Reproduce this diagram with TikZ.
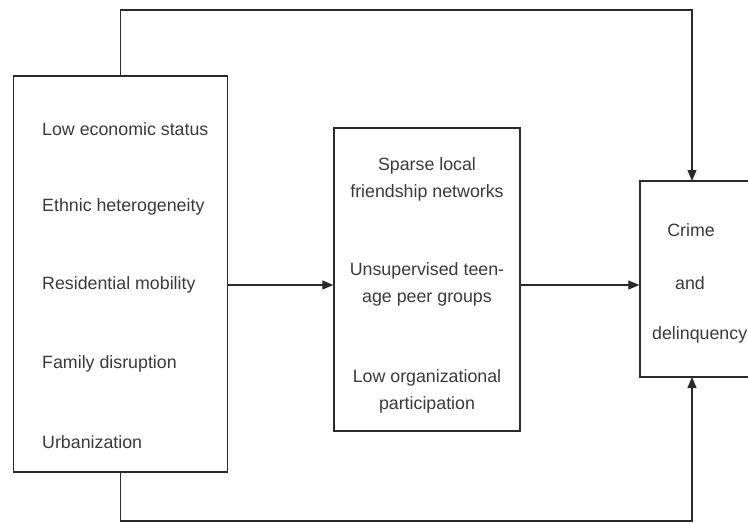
\documentclass[tikz,border=0pt]{standalone}
\usepackage{fontspec}
\setmainfont{Liberation Sans}
\usetikzlibrary{arrows.meta,calc}
\definecolor{ink}{HTML}{2A2A2A}
\definecolor{txt}{HTML}{3A3A3A}
\begin{document}
\begin{tikzpicture}[x=1pt,y=-1pt,
  box/.style={draw=ink,line width=1.3pt,rectangle,inner sep=0pt},
  lbl/.style={text=txt,font=\fontsize{17.8}{27}\selectfont,inner sep=0pt},
  mlbl/.style={lbl,align=center},
  conn/.style={draw=ink,line width=1.2pt,-{Triangle[length=11pt,width=9pt]}}]
\useasboundingbox (0,0) rectangle (748,523);
\begin{scope}
\clip (0,0) rectangle (748,523);
% boxes
\node[box,minimum width=214pt,minimum height=396pt] (L) at (120.5,274) {};
\node[box,minimum width=186pt,minimum height=303pt] (M) at (427,279.5) {};
\node[box,minimum width=130pt,minimum height=196pt] (R) at (705,279) {};
% left labels
\node[lbl,anchor=west] (l1) at (42,129) {Low economic status};
\node[lbl,anchor=west] (l2) at (42,207) {Ethnic heterogeneity};
\node[lbl,anchor=west] (l3) at (42,285) {Residential mobility};
\node[lbl,anchor=west] (l4) at (42,364) {Family disruption};
\node[lbl,anchor=west] (l5) at (42,442) {Urbanization};
% middle labels
\node[mlbl] (m1) at (427,179) {Sparse local\\friendship networks};
\node[mlbl] (m2) at (427,284) {Unsupervised teen-\\age peer groups};
\node[mlbl] (m3) at (427,391) {Low organizational\\participation};
% right labels
\node[lbl] (r1) at (691,230) {Crime};
\node[lbl] (r2) at (690,283) {and};
\node[lbl,anchor=west] (r3) at (652,335) {delinquency};
% connector points
\coordinate (tl) at (120.5,10);
\coordinate (tr) at (692,10);
\coordinate (bl) at (120.5,521);
\coordinate (br) at (692,521);
\coordinate (rtop) at (692,181);
\coordinate (rbot) at (692,377);
% connectors
\draw[conn] (L.north) -- (tl) -- (tr) -- (rtop);
\draw[conn] (L.south) -- (bl) -- (br) -- (rbot);
\draw[conn] (L.east |- 0,285) -- (M.west |- 0,285);
\draw[conn] (M.east |- 0,285) -- (R.west |- 0,285);
\end{scope}
\end{tikzpicture}
\end{document}
